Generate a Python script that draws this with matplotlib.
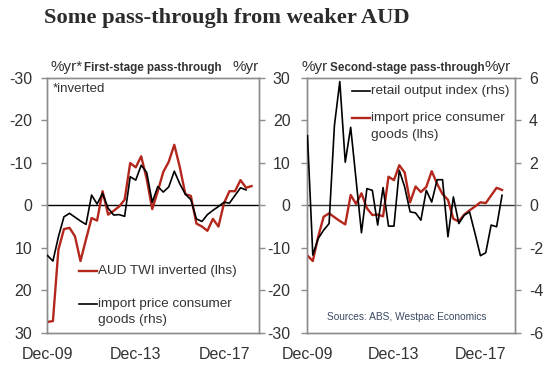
import matplotlib
matplotlib.use('Agg')
import matplotlib.pyplot as plt
import matplotlib.dates as mdates
import pandas as pd

# ---------------- data (quarterly, from Dec-09) ----------------
quarters = pd.date_range('2009-12-31', periods=38, freq='QE-DEC')

# AUD TWI, %yr, inverted (lhs of left panel)
aud_twi_inv = [27.4, 27.2, 10.4, 5.6, 5.3, 7.3, 13.1, 8.0, 3.0, 3.6,
               -3.3, 2.2, 1.3, 0.3, -1.3, -9.9, -8.9, -11.5, -6.2, 0.9,
               -3.3, -7.8, -10.2, -14.2, -8.9, -2.6, -2.2, 4.3, 5.0, 6.0,
               3.2, 5.0, -0.5, -3.3, -3.3, -5.9, -4.1, -4.5]

# Import prices, consumer goods, %yr
import_prices = [-11.8, -13.1, -7.4, -2.7, -1.9, -2.8, -3.7, -4.5, 2.4, 0.3,
                 2.8, -0.7, -2.3, -2.2, -2.6, 6.7, 5.9, 9.4, 7.7, 0.7,
                 4.4, 3.1, 4.3, 8.0, 5.0, 2.6, 1.3, -3.2, -3.8, -2.2,
                 -1.2, -0.3, 0.7, 0.5, 2.3, 4.1, 3.6]

# Retail output index, %yr (rhs of right panel)
retail_output = [3.27, -2.34, -1.56, -1.17, -0.86, 3.74, 5.81, 2.02, 3.66, 1.2,
                 -1.29, 0.78, 0.7, -0.93, 0.83, -0.98, -0.98, 1.64, 0.86, -0.31,
                 -0.36, -0.7, 0.7, 0.15, 1.2, 1.2, -1.48, 0.39, -0.86, -0.47,
                 -0.31, -1.32, -2.37, -2.23, -0.93, -1.01, 0.47]

xtick_dates = pd.to_datetime(['2009-12-31', '2013-12-31', '2017-12-31'])
xtick_labels = ['Dec-09', 'Dec-13', 'Dec-17']
pct_ticks = [-30, -20, -10, 0, 10, 20, 30]
retail_ticks = [-6, -4, -2, 0, 2, 4, 6]

# ---------------- style ----------------
W, H = 552, 373
RED = '#B3271D'
BLACK = '#000000'
SPINE = '#8c8c8c'
TXT = '#333333'
FONT = 'Liberation Sans'
plt.rcParams['font.family'] = [FONT, 'DejaVu Sans']
plt.rcParams['axes.unicode_minus'] = False

fig = plt.figure(figsize=(W / 100, H / 100), dpi=100)


def fpos(x0, y0, x1, y1):
    return [x0 / W, 1 - y1 / H, (x1 - x0) / W, (y1 - y0) / H]


def ftext(x, y, s, **kw):
    fig.text(x / W, 1 - y / H, s, **kw)


x_left = quarters[0] - pd.Timedelta(days=3)
x_right = quarters[0] + pd.Timedelta(days=int(38.4 * 91.31))

ax1 = fig.add_axes(fpos(47.3, 77.5, 259.3, 333))
ax1r = ax1.twinx()
ax2 = fig.add_axes(fpos(307.3, 77.5, 515, 333))
ax2r = ax2.twinx()

for ax in (ax1, ax1r, ax2, ax2r):
    for sp in ax.spines.values():
        sp.set_color(SPINE)
        sp.set_linewidth(1.0)
    ax.set_xlim(x_left, x_right)
    ax.set_xticks(xtick_dates)
    ax.set_xticklabels(xtick_labels)
    ax.tick_params(axis='x', length=0, pad=10, labelsize=11.5, labelcolor=TXT)
    ax.tick_params(axis='y', colors=SPINE, labelcolor=TXT, labelsize=11.5,
                   length=4, width=1)

# ---- left panel ----
ax1.set_ylim(30, -30)
ax1.set_yticks(pct_ticks)
ax1.tick_params(axis='y', pad=7)
ax1r.set_ylim(-30, 30)
ax1r.set_yticks(pct_ticks)
ax1r.tick_params(axis='y', labelright=False)
ax1.axhline(0, color=BLACK, lw=1.0, zorder=1)
ax1.plot(quarters, aud_twi_inv, color=RED, lw=1.7, zorder=3)
ax1r.plot(quarters[:len(import_prices)], import_prices, color=BLACK, lw=1.2, zorder=3)

# ---- right panel ----
ax2.set_ylim(-30, 30)
ax2.set_yticks(pct_ticks)
ax2.tick_params(axis='y', pad=8)
ax2r.set_ylim(-6, 6)
ax2r.set_yticks(retail_ticks)
ax2r.tick_params(axis='y', pad=6)
ax2.axhline(0, color='#333333', lw=1.0, zorder=1)
ax2.plot(quarters[:len(import_prices)], import_prices, color=RED, lw=1.7, zorder=3)
ax2r.plot(quarters[:len(retail_output)], retail_output, color=BLACK, lw=1.2, zorder=3)

# ---------------- texts ----------------
ftext(43.5, 23, 'Some pass-through from weaker AUD', family='Liberation Serif',
      weight='bold', size=16.2, color='#2b2b2b', va='baseline')

ftext(50.5, 71.5, '%yr*', size=11, color=TXT, va='baseline')
ftext(83.5, 71.5, 'First-stage pass-through', size=8.4, weight='bold', color=TXT, va='baseline')
ftext(258.5, 71.5, '%yr', size=11, color=TXT, va='baseline', ha='right')

ftext(301.5, 71.5, '%yr', size=11, color=TXT, va='baseline')
ftext(330, 71.5, 'Second-stage pass-through', size=8.4, weight='bold', color=TXT, va='baseline')
ftext(511, 71.5, '%yr', size=11, color=TXT, va='baseline', ha='right')

ftext(53, 89, '*inverted', size=9.5, color=TXT, va='center')

# legends
leg_handles = [
    (79.3, 96.7, 271, RED, 1.7, ['AUD TWI inverted (lhs)']),
    (79.3, 96.7, 303.5, BLACK, 1.2, ['import price consumer', 'goods (rhs)']),
    (351.7, 370, 90.7, BLACK, 1.2, ['retail output index (rhs)']),
    (351.7, 370, 118.3, RED, 1.7, ['import price consumer', 'goods (lhs)']),
]
for x0, x1, y, col, lw, lines in leg_handles:
    fig.add_artist(plt.Line2D([x0 / W, x1 / W], [1 - y / H, 1 - y / H],
                              color=col, lw=lw, transform=fig.transFigure))
    for i, s in enumerate(lines):
        ftext(x1 + 1, y + i * 16.5, s, size=9.7, color=TXT, va='center')

ftext(407, 316.7, 'Sources: ABS, Westpac Economics', size=7.3, color='#3d4a63',
      va='center', ha='center')

fig.savefig('out.png', dpi=100)
